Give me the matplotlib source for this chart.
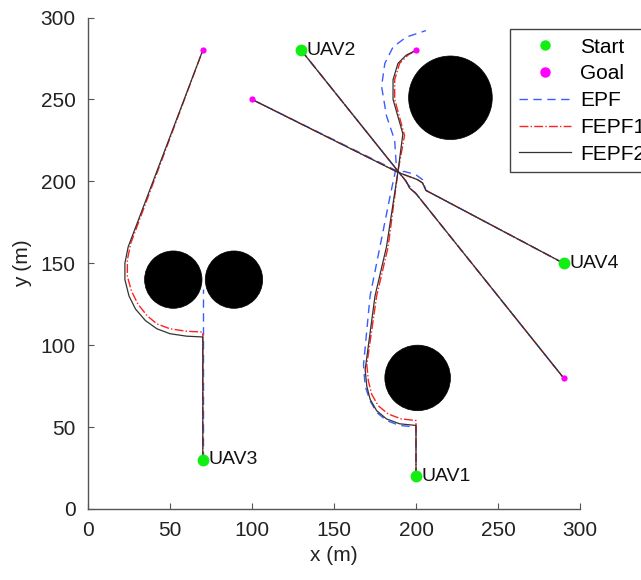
import numpy as np
import matplotlib.pyplot as plt
from matplotlib.patches import Circle
from matplotlib.lines import Line2D

plt.rcParams['font.family'] = ['Liberation Sans', 'DejaVu Sans']

# obstacles: centre x, centre y, radius
obs_x = [52, 89, 221, 201]
obs_y = [140, 140, 251, 80]
obs_r = [17.5, 17.5, 25.5, 20]

# start / goal positions
start_x = [200, 130, 70, 290]
start_y = [20, 280, 30, 150]
start_names = ['UAV1', 'UAV2', 'UAV3', 'UAV4']
goal_x = [200, 290, 70, 100]
goal_y = [280, 80, 280, 250]

# EPF trajectories
epf_1x = [200, 200, 190, 182, 176, 172, 169, 168, 172, 179, 184, 188, 187, 182, 179, 181, 186, 194, 206]
epf_1y = [20, 50, 51, 54, 59, 66, 75, 88, 130, 165, 190, 209, 225, 240, 258, 272, 282, 288, 292]
epf_2x = [130, 188, 193, 196, 200, 290]
epf_2y = [280, 207.5, 201, 197, 192.5, 80]
epf_3x = [70, 70]
epf_3y = [30, 134]
epf_4x = [290, 206, 204, 200, 193, 189, 100]
epf_4y = [150, 194.5, 201, 204, 206, 206, 250]

# FEPF1 trajectories
f1_1x = [200, 200, 191, 183, 177, 173, 171, 170, 176, 183, 189, 193, 187, 187, 190, 195, 200]
f1_1y = [20, 54, 55, 58, 63, 70, 78, 88, 130, 160, 206, 228, 250, 262, 272, 277, 280]
f1_2x = [130, 188, 194, 196, 200, 290]
f1_2y = [280, 207.5, 200, 196, 192.5, 80]
f1_3x = [70, 70, 60, 50, 42, 36, 30.5, 26.5, 24, 24, 26, 70]
f1_3y = [30, 108, 108.5, 110, 113, 118, 125, 133, 142, 152, 162, 280]
f1_4x = [290, 206, 204, 201, 189, 100]
f1_4y = [150, 194.5, 199, 201, 205.5, 250]

# FEPF2 trajectories
f2_1x = [200, 200, 190, 182, 176, 172, 170, 169, 175, 182, 189, 192, 186, 186, 189, 194, 200]
f2_1y = [20, 51, 52, 55, 60, 67, 75, 85, 130, 160, 206, 229, 250, 262, 272, 277, 280]
f2_2x = [130, 188, 194, 196, 200, 290]
f2_2y = [280, 207.5, 200, 196, 192.5, 80]
f2_3x = [70, 70, 60, 50, 42, 35, 29, 25, 22.5, 22.5, 24.5, 70]
f2_3y = [30, 105, 105.5, 107, 110, 115, 122, 130, 140, 150, 160, 280]
f2_4x = [290, 206, 204, 201, 189, 100]
f2_4y = [150, 194.5, 199, 201, 205.5, 250]

fig = plt.figure(figsize=(6.41, 5.80), dpi=100)
ax = fig.add_axes([88 / 641, 71 / 580, 492 / 641, 491.5 / 580])

for cx, cy, r in zip(obs_x, obs_y, obs_r):
    ax.add_patch(Circle((cx, cy), r, facecolor='black', edgecolor='black', lw=0.5, zorder=1))

blue = '#3a5cff'
for xs, ys in [(epf_1x, epf_1y), (epf_2x, epf_2y), (epf_3x, epf_3y), (epf_4x, epf_4y)]:
    ax.plot(xs, ys, '--', color=blue, lw=1.0, dashes=(6, 4), zorder=2)
for xs, ys in [(f1_1x, f1_1y), (f1_2x, f1_2y), (f1_3x, f1_3y), (f1_4x, f1_4y)]:
    ax.plot(xs, ys, '-.', color='#ff2020', lw=1.0, zorder=3)
for xs, ys in [(f2_1x, f2_1y), (f2_2x, f2_2y), (f2_3x, f2_3y), (f2_4x, f2_4y)]:
    ax.plot(xs, ys, '-', color='#333333', lw=0.9, zorder=4)

ax.plot(start_x, start_y, 'o', color='#11ee11', ms=8.5, mec='none', zorder=5)
ax.plot(goal_x, goal_y, 'o', color='#ff00ff', ms=4.5, mec='none', zorder=5)
for x, y, name in zip(start_x, start_y, start_names):
    ax.text(x + 3.5, y, name, fontsize=14, va='center', ha='left', color='#111111')

ax.set_xlim(0, 300)
ax.set_ylim(0, 300)
ax.set_xticks(np.arange(0, 301, 50))
ax.set_yticks(np.arange(0, 301, 50))
ax.tick_params(direction='in', length=4, width=0.8, color='#555555', labelsize=15,
               labelcolor='#222222', pad=9)
for side in ['top', 'right']:
    ax.spines[side].set_visible(False)
for side in ['left', 'bottom']:
    ax.spines[side].set_color('#555555')
    ax.spines[side].set_linewidth(1.0)
ax.set_xlabel('x (m)', fontsize=15, color='#222222', labelpad=4)
ax.set_ylabel('y (m)', fontsize=15, color='#222222', labelpad=6)

handles = [
    Line2D([], [], ls='none', marker='o', color='#11ee11', ms=7.5, mec='none'),
    Line2D([], [], ls='none', marker='o', color='#ff00ff', ms=7.5, mec='none'),
    Line2D([], [], ls='--', color=blue, lw=1.0, dashes=(6, 4)),
    Line2D([], [], ls='-.', color='#ff2020', lw=1.0),
    Line2D([], [], ls='-', color='#333333', lw=0.9),
]
leg = fig.legend(handles, ['Start', 'Goal', 'EPF', 'FEPF1', 'FEPF2'],
                 loc='upper left', bbox_to_anchor=(510 / 641, 1 - 29 / 580),
                 fontsize=15, numpoints=1, handlelength=2.5, handletextpad=0.45,
                 labelspacing=0.37, borderpad=0.42, borderaxespad=0,
                 fancybox=False, framealpha=1, edgecolor='#444444')
leg.get_frame().set_linewidth(1.0)

fig.savefig('out.png', dpi=100)
